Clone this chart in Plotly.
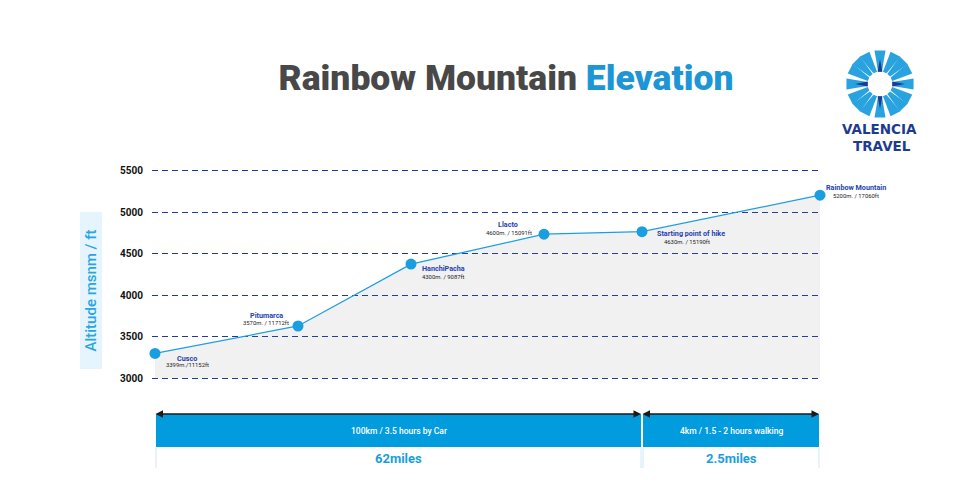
import math
import plotly.graph_objects as go

# waypoints along the route
stops = ["Cusco", "Pitumarca", "HanchiPacha", "Llacto", "Starting point of hike", "Rainbow Mountain"]
stop_notes = ["3399m./11152ft", "3570m. / 11712ft", "4300m. / 9087ft",
              "4600m. / 15091ft", "4630m. / 15190ft", "5200m. / 17060ft"]
route_pos = [0, 143, 256, 389, 487, 665]
altitude = [3300, 3630, 4375, 4735, 4765, 5205]

alt_ticks = [3000, 3500, 4000, 4500, 5000, 5500]

# legs of the trip (start stop index, end stop index)
leg_stops = [(0, 4), (4, 5)]
leg_text = ["100km / 3.5 hours by Car", "4km / 1.5 - 2 hours walking"]
leg_miles = ["62miles", "2.5miles"]

BLUE = "#1a9ee0"
NAVY = "#1f3a9a"
LABEL = "#2342b0"
FONT = "Roboto"

# page has an 8px body margin, so the figure is 962x492 placed at (8, 8)
OFF = 8
W, H = 970 - OFF, 500 - OFF
L, R, T, B = 144, 148, 161, 120
PW, PH = W - L - R, H - T - B


def xp(px):
    # page pixel -> paper x
    return (px - OFF - L) / PW


def yp(py):
    # page pixel -> paper y
    return (H - B - (py - OFF)) / PH


fig = go.Figure()

# baseline for the grey area
fig.add_trace(go.Scatter(x=route_pos, y=[alt_ticks[0]] * len(route_pos), mode="lines",
                         line=dict(width=0), hoverinfo="skip", showlegend=False))
fig.add_trace(go.Scatter(x=route_pos, y=altitude, mode="lines+markers",
                         fill="tonexty", fillcolor="rgba(120,120,120,0.1)",
                         line=dict(color="#1e9ee2", width=1.3),
                         marker=dict(color=BLUE, size=11),
                         cliponaxis=False, showlegend=False))

annotations = []

# stop labels: (dx, dy) offsets in px for name and altitude note
name_off = [(32, -5), (-32, 11), (32, -4), (-36, 10), (49, -2), (36, 8)]
note_off = [(32, -12), (-32, 3), (32, -13), (-35, 1), (45, -10), (36, -1)]
for i, s in enumerate(stops):
    annotations.append(dict(x=route_pos[i], y=altitude[i], xref="x", yref="y", text=s,
                            showarrow=False, xshift=name_off[i][0], yshift=name_off[i][1],
                            font=dict(family=FONT, size=7.2, color=LABEL, weight="bold")))
    annotations.append(dict(x=route_pos[i], y=altitude[i], xref="x", yref="y", text=stop_notes[i],
                            showarrow=False, xshift=note_off[i][0], yshift=note_off[i][1],
                            font=dict(family=FONT, size=5.9, color="#222222")))

shapes = []

# legs under the chart
for (a, b), t, m in zip(leg_stops, leg_text, leg_miles):
    x0, x1 = route_pos[a] + 1, route_pos[b] - 1
    shapes.append(dict(type="rect", xref="x", yref="paper", x0=x0, x1=x1,
                       y0=yp(447), y1=yp(414), fillcolor="#019cde", line=dict(width=0)))
    for xx in (x0, x1):
        shapes.append(dict(type="line", xref="x", yref="paper", x0=xx, x1=xx,
                           y0=yp(447), y1=yp(468), line=dict(color="#cfe8f8", width=1)))
    annotations.append(dict(x=x1, y=yp(414), xref="x", yref="paper", ax=x0 - 2, ay=0,
                            axref="x", ayref="pixel", text="", showarrow=True,
                            arrowside="end+start", arrowhead=2, arrowsize=1,
                            arrowwidth=1.5, arrowcolor="#1a1a1a"))
    annotations.append(dict(x=(x0 + x1) / 2, y=yp(431), xref="x", yref="paper", text=t,
                            xanchor="center", yanchor="middle", showarrow=False,
                            font=dict(family=FONT, size=8.5, color="white", weight=500)))
    annotations.append(dict(x=(x0 + x1) / 2, y=yp(458), xref="x", yref="paper", text=m,
                            xanchor="center", yanchor="middle", showarrow=False,
                            font=dict(family=FONT, size=13, color=BLUE, weight="bold")))

# axis title box
annotations.append(dict(x=xp(90.5), y=yp(291), xref="paper", yref="paper",
                        xanchor="center", yanchor="middle",
                        text="Altitude msnm / ft", textangle=-90, showarrow=False,
                        width=156, height=21, bgcolor="#e6f5fd", borderpad=0,
                        font=dict(family=FONT, size=15, color="#27a6e4", weight=500)))

# logo
CX, CY = 880, 84


def lp(r, a):
    return xp(CX + r * math.cos(math.radians(a))), yp(CY - r * math.sin(math.radians(a)))


def path(points):
    return "M " + " L ".join(f"{x:.5f},{y:.5f}" for x, y in points) + " Z"


for k in range(16):
    th = 90 - k * 22.5
    tw = {0: 0, 1: -5, 2: 0, 3: 5}[k % 4]
    hw = 8.8
    pts = [lp(12.5, th - hw), lp(12.5, th + hw),
           lp(34, th + hw + 0.5 + tw), lp(34, th - hw - 0.5 + tw)]
    shapes.append(dict(type="path", xref="paper", yref="paper", path=path(pts),
                       fillcolor="#29a3e0", line=dict(width=0)))
for k in range(4):
    th = 90 - k * 90
    pts = [lp(12.5, th - 11), lp(12.5, th + 11), lp(25, th)]
    shapes.append(dict(type="path", xref="paper", yref="paper", path=path(pts),
                       fillcolor="#1d3c91", line=dict(width=0)))

annotations.append(dict(x=xp(879), y=yp(129.5), xref="paper", yref="paper", text="VALENCIA",
                        xanchor="center", yanchor="middle", showarrow=False,
                        font=dict(family="DejaVu Sans", size=13.5, color="#1d3c8f",
                                  weight="bold")))
annotations.append(dict(x=xp(882), y=yp(145.5), xref="paper", yref="paper", text="TRAVEL",
                        xanchor="center", yanchor="middle", showarrow=False,
                        font=dict(family="DejaVu Sans", size=13.5, color="#1d3c8f",
                                  weight="bold")))

fig.update_layout(
    width=W, height=H,
    margin=dict(l=L, r=R, t=T, b=B),
    paper_bgcolor="white", plot_bgcolor="white",
    title=dict(text="Rainbow Mountain <span style='color:#1e96d6'>Elevation</span>",
               x=(506 - OFF) / W, xanchor="center", y=1 - (78 - OFF) / H, yanchor="middle",
               font=dict(family=FONT, size=35.5, color="#484848", weight=900)),
    annotations=annotations, shapes=shapes, showlegend=False,
)
fig.update_xaxes(range=[-3, PW - 3], visible=False)
fig.update_yaxes(range=[2980, 5520], tickvals=alt_ticks, showgrid=True,
                 gridcolor=NAVY, griddash="6px,4px", gridwidth=1, zeroline=False,
                 showline=False, ticks="", ticklabelstandoff=8,
                 tickfont=dict(family=FONT, size=10, color="#111111", weight="bold"))

fig.write_html("out.html")
